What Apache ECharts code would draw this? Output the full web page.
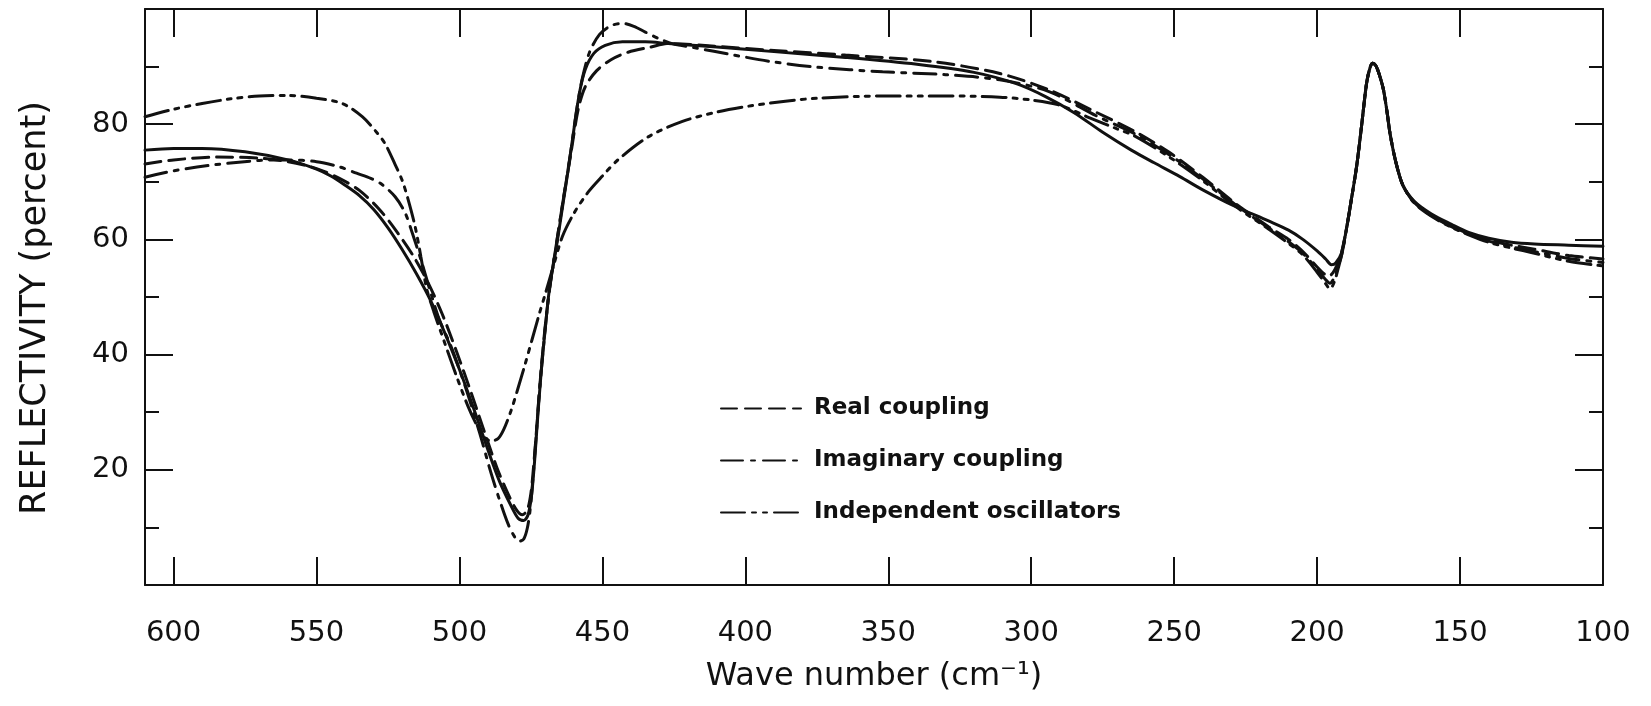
<!DOCTYPE html>
<html>
<head>
<meta charset="utf-8">
<script src="https://cdn.jsdelivr.net/npm/echarts/dist/echarts.min.js"></script>
<style>
  html, body { margin: 0; padding: 0; background: #ffffff; }
  #chart { width: 1651px; height: 706px; }
</style>
</head>
<body>
<div id="chart"></div>
<script>
// Reflectivity spectra: measured curve plus three model fits, as [wave number (cm^-1), reflectivity (%)]
const measured = [
  [610,75.5],[600,75.8],[590,75.8],[575,75.2],[560,73.8],[550,72.2],[545,71.0],[540,69.4],[535,67.6],
  [530,65.2],[525,62.0],[520,58.2],[515,54.0],[510,49.3],[505,43.6],[500,37.4],[495,30.6],[490,23.4],
  [486,18.0],[482,13.8],[479.5,11.6],[477.5,11.2],[476,12.2],[474.8,15.5],[473.8,21],[472.8,28],
  [471.5,36.5],[470,44.5],[468.5,51.5],[466,59],[464,65.5],[462,72],[460,79],[458,85.5],[456,89.5],
  [453,92.3],[449,93.7],[443,94.3],[435,94.3],[427,94.0],[410,93.4],[390,92.6],[365,91.6],[340,90.4],
  [320,89.0],[305,87.0],[295,84.8],[285,82.0],[275,78.6],[265,75.5],[257,73.3],[248,70.9],[240,68.6],
  [229,65.8],[217,63.2],[210,61.6],[205,60.0],[200,58.0],[197,56.6],[195,55.6],[193.5,55.9],[191.5,57.6],
  [189.5,62.5],[188,67],[186.2,72.6],[184.5,79.5],[182.7,87.1],[181.5,89.8],[180.6,90.6],[179.5,90.2],
  [178.3,88.7],[176.8,86.0],[175.5,82.0],[174.5,78.4],[172.5,73.5],[170,69.4],[166,66.6],[160,64.4],
  [153,62.6],[147,61.2],[140,60.2],[132,59.5],[124,59.2],[112,59.0],[100,58.8]
];

const realCoupling = [
  [610,73.1],[600,73.8],[585,74.3],[570,74.1],[560,73.5],[550,72.3],[542,70.6],[535,68.5],[528,65.2],
  [522,61.4],[516,57.0],[511,52.5],[506,47.0],[501,40.5],[496,33.5],[491,26.2],[487,20.5],[483,15.8],
  [480,13.0],[478,12.2],[476.3,13.0],[475,16],[474,21],[472.8,28.5],[471.5,37],[470,45],[468.3,52],
  [466,59.5],[463.5,67.5],[461,75],[458.5,82.5],[456,86.5],[452,89.3],[447,91.2],[441,92.5],[433,93.4],
  [427,94.0],[410,93.5],[390,92.8],[365,92.0],[335,90.9],[311,88.8],[294,86.0],[277,82.0],[264,78.8],
  [252,75.2],[240,70.8],[229,66.4],[217,62.2],[210,60.0],[205,57.9],[200,55.2],[197.5,54.0],[196,53.6],
  [194.5,54.2],[193,55.6],[191.5,57.6],[189.5,62.5],[188,67],[186.2,72.6],[184.5,79.5],[182.7,87.1],
  [181.5,89.8],[180.6,90.6],[179.5,90.2],[178.3,88.7],[176.8,86.0],[175.5,82.0],[174.5,78.4],[172.5,73.5],
  [170,69.4],[166,66.5],[160,64.2],[153,62.3],[147,61.0],[140,59.9],[132,59.0],[124,58.3],[112,57.2],[100,56.6]
];

const imaginaryCoupling = [
  [610,70.8],[600,71.9],[585,73.0],[570,73.7],[560,73.8],[550,73.5],[542,72.6],[536,71.5],[531,70.6],
  [527,69.5],[522.5,67.4],[519,64.6],[516.5,61.1],[513.5,56.5],[510.5,51.5],[507,46.0],[503,41.5],
  [498,34.5],[493,26.5],[489,19.5],
  [486,14.8],[483,10.6],[480.5,8.2],[479,7.6],[477.5,8.0],[476.3,9.8],[475.3,13],[474.3,18.5],[473.3,25],
  [472.3,32],[470.5,42],[468.5,51.5],[466,59.5],[463.5,67.5],[461,75.5],[459,82.5],[457,88],[454.5,92.5],
  [451,95.6],[447,97.1],[443,97.5],[439,97.0],[435,96.0],[430,94.8],[425,93.9],[418,93.3],[404,92.0],
  [390,90.8],[375,89.9],[352,89.1],[330,88.6],[311,87.7],[294,85.7],[277,81.4],[264,78.4],[252,74.8],
  [240,70.5],[229,66.2],[217,62.0],[210,59.6],[205,57.6],[200,54.8],[197,53.0],[195.5,52.4],[194,53.4],
  [192.5,55.5],[191.2,57.8],[189.5,62.5],[188,67],[186.2,72.6],[184.5,79.5],[182.7,87.1],[181.5,89.8],
  [180.6,90.6],[179.5,90.2],[178.3,88.7],[176.8,86.0],[175.5,82.0],[174.5,78.4],[172.5,73.5],[170,69.4],
  [166,66.4],[160,64.1],[153,62.2],[147,60.9],[140,59.7],[132,58.7],[124,57.9],[112,56.7],[100,56.0]
];

const independentOscillators = [
  [610,81.3],[600,82.6],[590,83.6],[580,84.4],[570,84.9],[560,85.0],[550,84.5],[541,83.6],[534,81.3],
  [529,78.6],[526,76.6],[522.5,73.0],[520,70.2],[518,67.0],[515.5,62.2],[513.5,57],[511.5,51.5],[509,47.5],
  [505,41.8],[501,36.2],[497,31.0],[494,27.8],[491.5,25.8],[489,25.0],[486.5,25.4],[484.5,27.0],[482,30.2],
  [479.5,34.2],[477,38.4],[474.5,42.8],[472,47.2],[470,50.5],[467,55.6],[464,60.5],[460,64.5],[455,68.2],
  [450,71.0],[444.6,73.8],[434,77.8],[422,80.5],[410,82.1],[398,83.2],[386,84.0],[375,84.5],[352,84.9],
  [329,84.9],[311,84.7],[300,84.2],[290,83.3],[280,81.2],[270,79.2],[264,78.0],[252,74.4],[240,70.2],
  [229,65.9],[217,61.8],[210,59.3],[205,57.3],[200,54.3],[197,52.3],[195.5,51.4],[194,52.6],[192.5,55.2],
  [191.2,57.8],[189.5,62.5],[188,67],[186.2,72.6],[184.5,79.5],[182.7,87.1],[181.5,89.8],[180.6,90.6],
  [179.5,90.2],[178.3,88.7],[176.8,86.0],[175.5,82.0],[174.5,78.4],[172.5,73.5],[170,69.4],[166,66.3],
  [160,64.0],[153,62.1],[147,60.8],[140,59.5],[132,58.5],[124,57.6],[112,56.2],[100,55.4]
];

const xTicks = { min: 100, max: 610, step: 50 };
const yTicks = { min: 0, max: 100, step: 20 };

const INK = '#111111';
const FONT = 'DejaVu Sans';

const axisLineStyle = { color: INK, width: 2 };

function waveAxis(position, showLabels, extra) {
  return Object.assign({
    type: 'value',
    position: position,
    inverse: true,
    min: xTicks.min,
    max: xTicks.max,
    interval: xTicks.step,
    axisLine: { show: true, onZero: false, lineStyle: axisLineStyle },
    axisTick: { show: true, inside: true, length: 28, lineStyle: axisLineStyle },
    axisLabel: {
      show: showLabels,
      margin: 34,
      fontFamily: FONT,
      fontSize: 29,
      color: INK,
      formatter: v => (v % xTicks.step === 0 ? String(v) : '')
    },
    splitLine: { show: false }
  }, extra || {});
}

function reflAxis(position, showLabels, extra) {
  return Object.assign({
    type: 'value',
    position: position,
    min: yTicks.min,
    max: yTicks.max,
    interval: yTicks.step,
    axisLine: { show: true, onZero: false, lineStyle: axisLineStyle },
    axisTick: { show: true, inside: true, length: 28, lineStyle: axisLineStyle },
    minorTick: { show: true, splitNumber: 2, length: 14, lineStyle: axisLineStyle },
    axisLabel: {
      show: showLabels,
      margin: 16,
      fontFamily: FONT,
      fontSize: 29,
      color: INK,
      formatter: v => (v === yTicks.min || v === yTicks.max ? '' : String(v))
    },
    splitLine: { show: false },
    minorSplitLine: { show: false }
  }, extra || {});
}

function curve(name, data, dash, z) {
  return {
    name: name,
    type: 'line',
    data: data,
    xAxisIndex: 0,
    yAxisIndex: 0,
    symbol: 'none',
    smooth: 0.3,
    z: z,
    itemStyle: { color: INK },
    lineStyle: { color: INK, width: 3, type: dash, cap: 'round' },
    emphasis: { disabled: true },
    animation: false
  };
}

const chart = echarts.init(document.getElementById('chart'), null, { renderer: 'canvas' });

chart.setOption({
  backgroundColor: '#ffffff',
  animation: false,
  grid: { left: 145, right: 48, top: 9, bottom: 121, containLabel: false },
  legend: {
    orient: 'vertical',
    left: 720,
    top: 397,
    padding: 0,
    itemWidth: 80,
    itemHeight: 14,
    itemGap: 29,
    selectedMode: false,
    data: ['Real coupling', 'Imaginary coupling', 'Independent oscillators'],
    itemStyle: { opacity: 0, borderWidth: 0 },
    lineStyle: { width: 2 },
    textStyle: {
      fontFamily: FONT,
      fontWeight: 'bold',
      fontSize: 23,
      color: INK,
      padding: [0, 0, 0, 8]
    }
  },
  xAxis: [
    waveAxis('bottom', true, {
      name: 'Wave number (cm\u207B\u00B9)',
      nameLocation: 'middle',
      nameGap: 76,
      nameTextStyle: { fontFamily: FONT, fontSize: 32, color: INK }
    }),
    waveAxis('top', false)
  ],
  yAxis: [
    reflAxis('left', true, {
      name: 'REFLECTIVITY (percent)',
      nameLocation: 'middle',
      nameGap: 92,
      nameTextStyle: { fontFamily: FONT, fontSize: 35, color: INK, padding: [0, 22, 0, 0] }
    }),
    reflAxis('right', false)
  ],
  series: [
    curve('Independent oscillators', independentOscillators, [24, 7, 4, 7, 4, 7], 2),
    curve('Imaginary coupling', imaginaryCoupling, [22, 8, 4, 8], 3),
    curve('Real coupling', realCoupling, [16, 8], 4),
    curve('Measured', measured, 'solid', 5)
  ]
});
</script>
</body>
</html>
